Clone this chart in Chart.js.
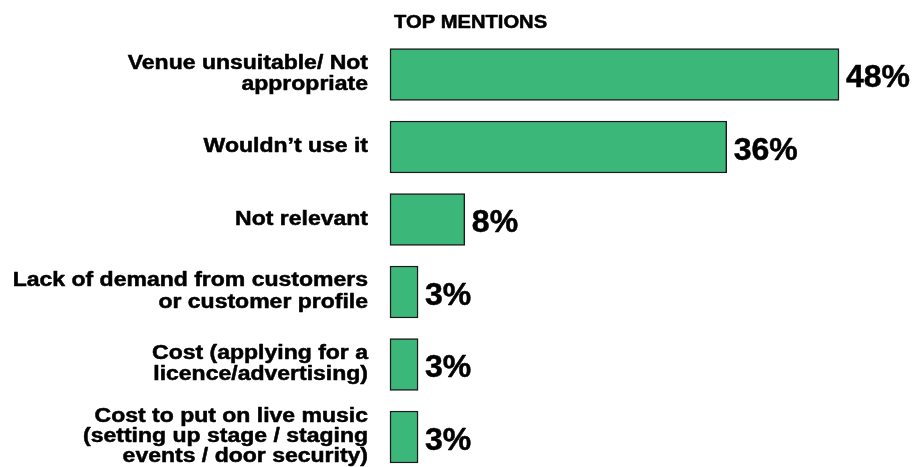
<!DOCTYPE html>
<html>
<head>
<meta charset="utf-8">
<script src="https://cdn.jsdelivr.net/npm/chart.js@4"></script>
<style>
    html, body { margin: 0; padding: 0; background: #fff; }
    #wrap { width: 915px; height: 467px; position: relative; }
</style>
</head>
<body>
<div id="wrap"><canvas id="mentionsChart"></canvas></div>
<script>
const title = 'TOP MENTIONS';

const categories = [
    ['Venue unsuitable/ Not', 'appropriate'],
    ['Wouldn\u2019t use it'],
    ['Not relevant'],
    ['Lack of demand from customers', 'or customer profile'],
    ['Cost (applying for a', 'licence/advertising)'],
    ['Cost to put on live music', '(setting up stage / staging', 'events / door security)']
];

const mentions = [48, 36, 8, 3, 3, 3];

const FONT = '"Liberation Sans", Arial, sans-serif';

// heavy text: fill plus a thin stroke of the same colour
function boldText(ctx, str, x, y, sx) {
    ctx.save();
    ctx.translate(x, y);
    ctx.scale(sx, 1);
    ctx.fillText(str, 0, 0);
    ctx.strokeText(str, 0, 0);
    ctx.restore();
}

// category names, title and % values are painted on top of the bars
const textPlugin = {
    id: 'textPlugin',
    afterDatasetsDraw(chart) {
        const ctx = chart.ctx;
        const xScale = chart.scales.x;
        const yScale = chart.scales.y;

        ctx.save();
        ctx.fillStyle = '#000';
        ctx.strokeStyle = '#000';
        ctx.lineWidth = 0.5;
        ctx.lineJoin = 'round';
        ctx.textBaseline = 'alphabetic';

        // title
        ctx.font = 'bold 18px ' + FONT;
        ctx.textAlign = 'left';
        boldText(ctx, title, 394, 28, 1.12);

        // labels on the left, right aligned
        ctx.font = 'bold 20px ' + FONT;
        ctx.textAlign = 'right';
        categories.forEach((lines, i) => {
            const yc = yScale.getPixelForValue(i) - 2;
            const lh = lines.length > 2 ? 20 : 21.5;
            lines.forEach((line, j) => {
                const y = yc + (j - (lines.length - 1) / 2) * lh + 7.1;
                boldText(ctx, line, 368, y, 1.15);
            });
        });

        // values at bar ends
        ctx.font = 'bold 32px ' + FONT;
        ctx.textAlign = 'left';
        mentions.forEach((v, i) => {
            const x = xScale.getPixelForValue(v) + 7;
            const y = yScale.getPixelForValue(i) + 1 + 11.5;
            boldText(ctx, v + '%', x, y, 1);
        });

        ctx.restore();
    }
};

new Chart(document.getElementById('mentionsChart'), {
    type: 'bar',
    data: {
        labels: categories,
        datasets: [{
            data: mentions,
            backgroundColor: '#3cb77a',
            borderColor: '#1c1c1c',
            borderWidth: 1.5,
            borderSkipped: false,
            barThickness: 52,
            clip: false
        }]
    },
    options: {
        indexAxis: 'y',
        responsive: true,
        maintainAspectRatio: false,
        animation: false,
        layout: {
            padding: { left: 390, right: 57.3, top: 74.5, bottom: 30 }
        },
        plugins: {
            legend: { display: false },
            tooltip: { enabled: false }
        },
        scales: {
            x: {
                display: false,
                min: 0,
                max: 50
            },
            y: {
                display: false,
                offset: false
            }
        }
    },
    plugins: [textPlugin]
});
</script>
</body>
</html>
